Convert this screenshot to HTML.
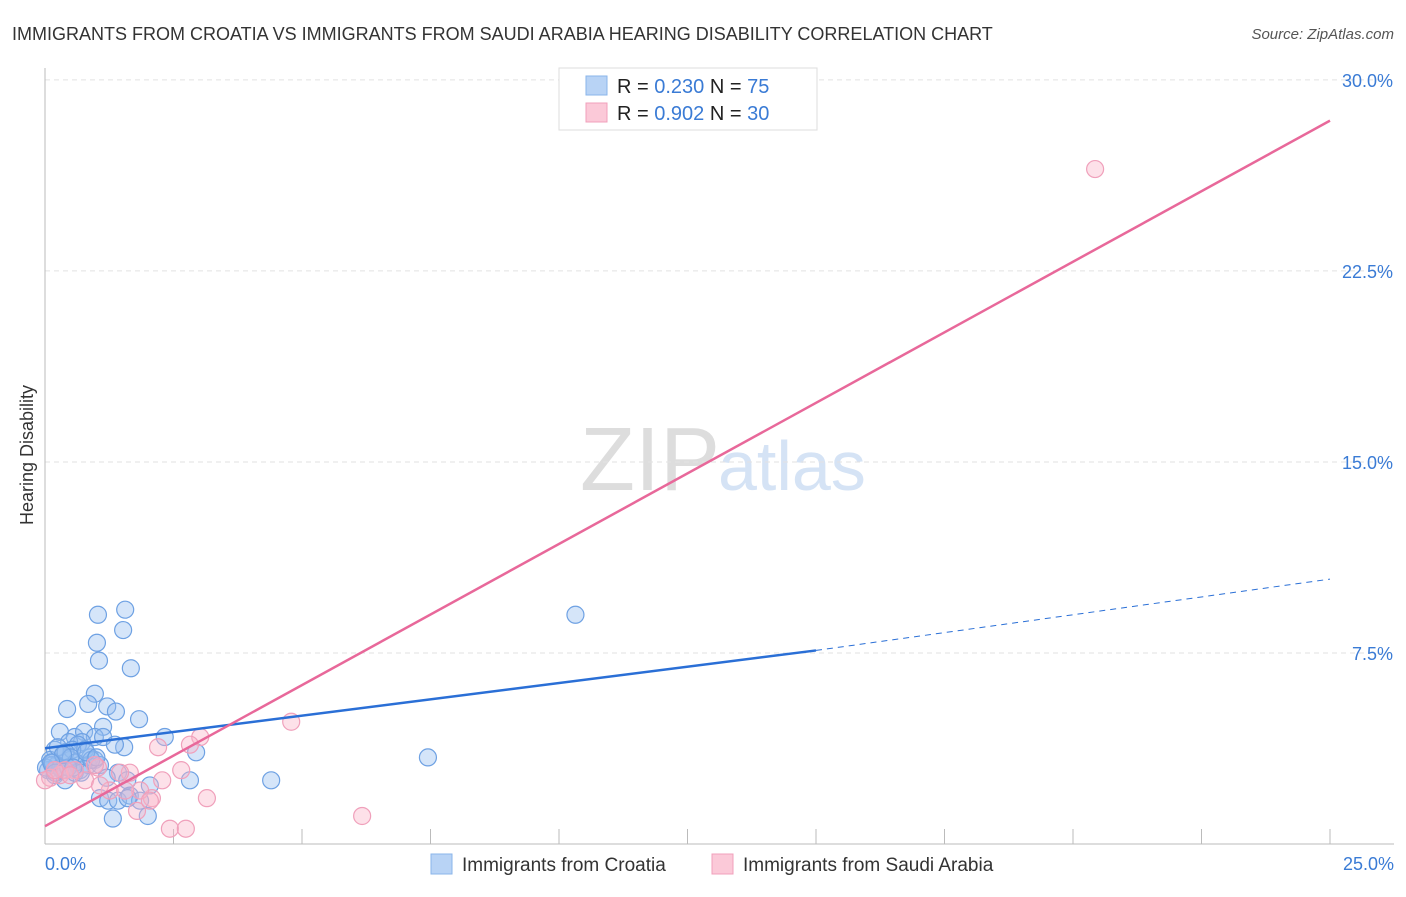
<!DOCTYPE html>
<html><head><meta charset="utf-8"><style>
body{margin:0;background:#fff;font-family:"Liberation Sans",sans-serif;}
svg text{font-family:"Liberation Sans",sans-serif;}
</style></head><body>
<svg id="c" width="1406" height="892" viewBox="0 0 1406 892">
<text x="12" y="40" font-size="18" fill="#333">IMMIGRANTS FROM CROATIA VS IMMIGRANTS FROM SAUDI ARABIA HEARING DISABILITY CORRELATION CHART</text>
<text x="1394" y="39" font-size="15" fill="#555" font-style="italic" text-anchor="end">Source: ZipAtlas.com</text>
<text x="720" y="490" font-size="90" fill="#ddd" text-anchor="end" font-family="Liberation Serif">ZIP</text>
<text x="718" y="490" font-size="70" fill="#d5e3f5">atlas</text>
<text transform="translate(33,455) rotate(-90)" font-size="18" fill="#333" text-anchor="middle">Hearing Disability</text>
<g id="grid"></g><g id="pts"></g><g id="lines"></g>
<g>
<rect x="559" y="68" width="258" height="62" fill="#fff" stroke="#ddd"/>
<rect x="586" y="76" width="21" height="19" fill="#b8d3f5" stroke="#8ab4ea"/>
<rect x="586" y="103" width="21" height="19" fill="#fbc9d8" stroke="#f0a0bb"/>
<text x="617" y="93" font-size="20" fill="#222">R = <tspan fill="#3a7bd5">0.230</tspan>   N = <tspan fill="#3a7bd5">75</tspan></text>
<text x="617" y="120" font-size="20" fill="#222">R = <tspan fill="#3a7bd5">0.902</tspan>   N = <tspan fill="#3a7bd5">30</tspan></text>
</g>
<g>
<rect x="431" y="854" width="21" height="20" fill="#b8d3f5" stroke="#8ab4ea"/>
<text x="462" y="871" font-size="19" fill="#333">Immigrants from Croatia</text>
<rect x="712" y="854" width="21" height="20" fill="#fbc9d8" stroke="#f0a0bb"/>
<text x="743" y="871" font-size="19" fill="#333">Immigrants from Saudi Arabia</text>
</g>
</svg>
<script>
const yTicks=[7.5,15,22.5,30];
const yTickLabels=["7.5%","15.0%","22.5%","30.0%"];
const xLabels=["0.0%","25.0%"];
const croatiaX=[1.03,1.56,1.52,1.01,1.05,1.67,0.97,0.43,0.84,1.21,1.38,1.83,1.13,0.29,0.58,0.76,0.97,1.13,0.72,0.47,0.64,1.54,1.36,2.33,2.94,0.19,0.35,0.10,0.23,0.49,0.88,0.78,0.53,0.06,0.19,0.39,0.58,0.84,0.97,0.02,1.42,1.60,2.04,2.82,1.07,1.23,1.42,1.65,1.85,1.32,2.00,1.61,4.40,7.45,10.32,0.25,0.14,0.33,0.68,1.07,0.4,0.6,0.9,0.3,0.5,0.15,0.7,1.2,0.8,0.2,0.45,1.0,0.35,0.55,0.12];
const croatiaY=[9.0,9.2,8.4,7.9,7.2,6.9,5.9,5.3,5.5,5.4,5.2,4.9,4.6,4.4,4.2,4.4,4.2,4.2,4.0,4.0,3.9,3.8,3.9,4.2,3.6,3.7,3.5,3.3,3.1,3.3,3.4,3.7,3.7,2.9,2.7,2.5,2.8,3.1,3.3,3.0,2.8,2.5,2.3,2.5,1.8,1.7,1.7,1.9,1.7,1.0,1.1,1.8,2.5,3.4,9.0,3.8,3.1,2.9,2.9,3.1,3.6,3.2,3.3,3.0,3.4,3.2,2.8,2.6,3.6,2.8,3.0,3.4,3.5,3.0,3.2];
const saudiX=[20.43,4.79,3.02,2.20,2.82,2.65,3.15,2.28,2.08,1.85,1.65,1.46,1.03,0.78,0.97,0.58,0.29,0.10,0.00,0.39,2.43,2.74,6.17,1.79,1.26,1.07,0.19,0.49,2.04,1.56];
const saudiY=[26.5,4.8,4.2,3.8,3.9,2.9,1.8,2.5,1.8,2.1,2.8,2.8,3.0,2.5,3.1,2.9,2.7,2.6,2.5,2.9,0.6,0.6,1.1,1.3,2.1,2.3,2.9,2.7,1.7,2.1];
const lineCroatia=[0,3.76,15,7.6,25,10.4];
const lineSaudi=[0,0.7,25,28.4];
const X=v=>45+v*51.4, Y=v=>844-v*25.47;
const NS="http://www.w3.org/2000/svg";
function mk(t,a,p){const e=document.createElementNS(NS,t);for(const k in a)e.setAttribute(k,a[k]);p.appendChild(e);return e;}
const g=document.getElementById('grid');
yTicks.forEach((t,i)=>{
 const l=mk('line',{x1:45,x2:1394,y1:Y(t),y2:Y(t),stroke:'#e2e2e2','stroke-dasharray':'5,4'},g);
 
 
 const tx=mk('text',{x:1393,y:Y(t)+7,'font-size':18,fill:'#3a7bd5','text-anchor':'end'},g);
 tx.textContent=yTickLabels[i];
 
 
});
const ax=mk('line',{x1:45,x2:45,y1:68,y2:844,stroke:'#bbb'},g);


const bx=mk('line',{x1:45,x2:1394,y1:844,y2:844,stroke:'#bbb'},g);


for(let i=1;i<=10;i++){const t=mk('line',{x1:X(i*2.5),x2:X(i*2.5),y1:829,y2:844,stroke:'#bbb'},g);
 
 }
[[0,'start',45],[25,'end',1394]].forEach((a,i)=>{const t=mk('text',{x:a[2],y:870,'font-size':18,fill:'#3a7bd5','text-anchor':a[1]},g);t.textContent=xLabels[i];
 
 });
const p=document.getElementById('pts');
croatiaX.forEach((v,i)=>{const c=mk('circle',{cx:X(v),cy:Y(croatiaY[i]),r:8.5,fill:'rgba(150,190,240,0.4)',stroke:'#6ea1e3','stroke-width':1.2},p);
 
 });
saudiX.forEach((v,i)=>{const c=mk('circle',{cx:X(v),cy:Y(saudiY[i]),r:8.5,fill:'rgba(250,180,200,0.4)',stroke:'#f0a0bb','stroke-width':1.2},p);
 
 });
const L=document.getElementById('lines');
const b1=mk('line',{x1:X(lineCroatia[0]),y1:Y(lineCroatia[1]),x2:X(lineCroatia[2]),y2:Y(lineCroatia[3]),stroke:'#2a6fd6','stroke-width':2.5},L);


const b2=mk('line',{x1:X(lineCroatia[2]),y1:Y(lineCroatia[3]),x2:X(lineCroatia[4]),y2:Y(lineCroatia[5]),stroke:'#2a6fd6','stroke-width':1,'stroke-dasharray':'6,5'},L);


const s1=mk('line',{x1:X(lineSaudi[0]),y1:Y(lineSaudi[1]),x2:X(lineSaudi[2]),y2:Y(lineSaudi[3]),stroke:'#e8689a','stroke-width':2.5},L);


</script>
</body></html>
